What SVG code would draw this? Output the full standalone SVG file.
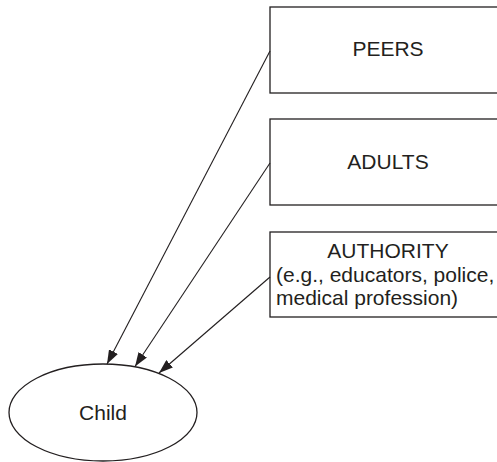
<svg xmlns="http://www.w3.org/2000/svg" width="497" height="462" viewBox="0 0 497 462">
<style>
.box{fill:#fff;stroke:#231f20;stroke-width:1.3}
.t{font-family:"Liberation Sans",Arial,sans-serif;font-size:21px;fill:#231f20}
.c{stroke:#231f20;stroke-width:1.1;fill:none}
</style>
<defs>
<marker id="ah" viewBox="0 0 14 10" refX="14" refY="5" markerWidth="14" markerHeight="10" markerUnits="userSpaceOnUse" orient="auto">
<path d="M0,0 L14,5 L0,10 Z" fill="#231f20"/>
</marker>
</defs>
<rect width="497" height="462" fill="#fff"/>
<g id="peers">
<rect class="box" x="270" y="7" width="240" height="86"/>
<text class="t" x="388" y="56" text-anchor="middle">PEERS</text>
</g>
<g id="adults">
<rect class="box" x="270" y="119" width="240" height="86"/>
<text class="t" x="388" y="169" text-anchor="middle">ADULTS</text>
</g>
<g id="authority">
<rect class="box" x="270" y="232" width="240" height="85"/>
<text class="t" x="388" y="258" text-anchor="middle">AUTHORITY</text>
<text class="t" x="276" y="282">(e.g., educators, police,</text>
<text class="t" x="276" y="305">medical profession)</text>
</g>
<g id="child">
<ellipse cx="103" cy="412.5" rx="94" ry="48.5" fill="#fff" stroke="#231f20" stroke-width="1.3"/>
<text class="t" x="103" y="420" text-anchor="middle">Child</text>
</g>
<g id="connectors">
<line class="c" x1="270" y1="51" x2="107" y2="364" marker-end="url(#ah)"/>
<line class="c" x1="270" y1="163" x2="135" y2="366.5" marker-end="url(#ah)"/>
<line class="c" x1="270" y1="277" x2="159" y2="373" marker-end="url(#ah)"/>
</g>
</svg>
